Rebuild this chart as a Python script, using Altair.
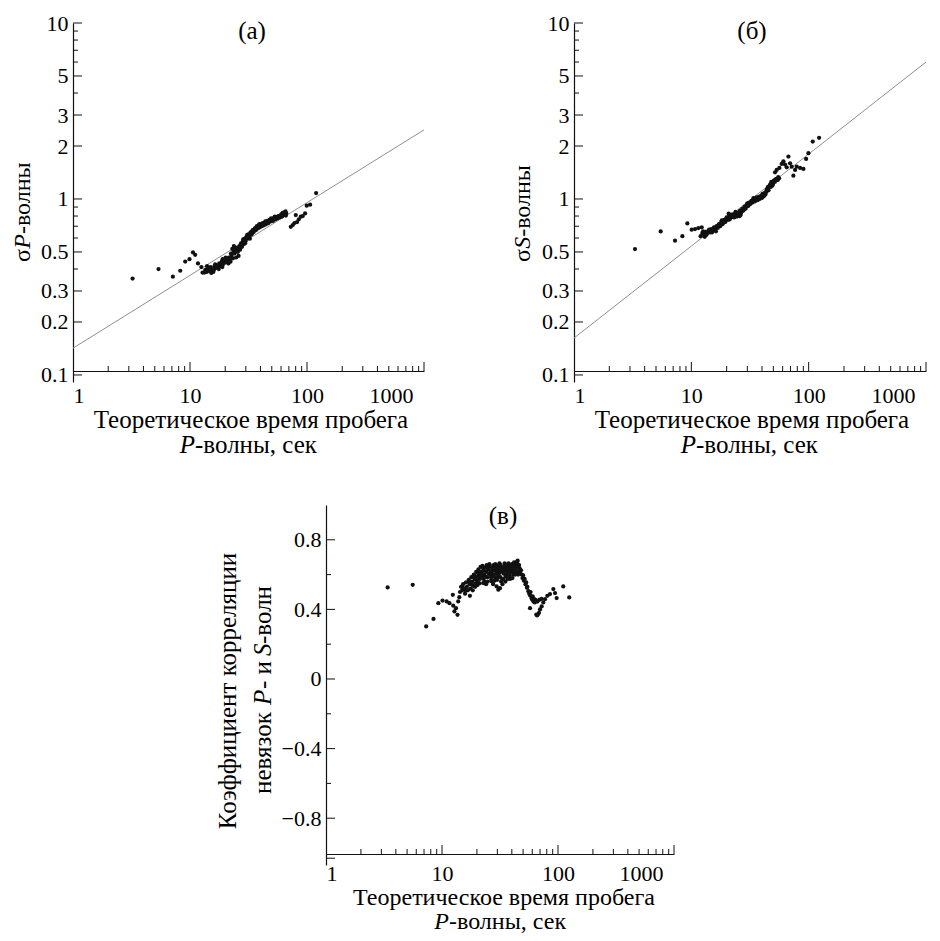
import altair as alt
import pandas as pd

# ---------------- data ----------------
A_POINTS = [
    (3.23, 0.353), (5.38, 0.40), (7.14, 0.362), (8.25, 0.391), (9.1, 0.441), (9.9, 0.455),
    (10.6, 0.497), (11.07, 0.482), (11.7, 0.43), (12.5, 0.41), (12.8, 0.382), (13.3, 0.382),
    (13.5, 0.395), (13.9, 0.385), (14.2, 0.405), (14.6, 0.39), (15.0, 0.41), (15.4, 0.40),
    (15.8, 0.385), (16.2, 0.415), (16.6, 0.405), (17.0, 0.42), (17.4, 0.41), (17.8, 0.43),
    (18.2, 0.415), (18.7, 0.44), (19.1, 0.425), (19.6, 0.445), (20.0, 0.435), (20.5, 0.455),
    (21.0, 0.44), (21.5, 0.465), (22.0, 0.45), (22.6, 0.475), (23.0, 0.52), (23.3, 0.46),
    (23.7, 0.54), (24.0, 0.49), (24.4, 0.51), (24.8, 0.465), (25.2, 0.525), (25.6, 0.50),
    (26.0, 0.475), (26.4, 0.54), (26.8, 0.515), (27.3, 0.56), (27.8, 0.535), (28.3, 0.575),
    (28.8, 0.555), (29.3, 0.595), (29.8, 0.575), (30.4, 0.61), (31.0, 0.595), (31.6, 0.63),
    (32.2, 0.61), (32.9, 0.645), (33.6, 0.63), (34.3, 0.665), (35.0, 0.65), (35.8, 0.68),
    (36.5, 0.665), (37.3, 0.70), (38.0, 0.68), (38.8, 0.71), (39.6, 0.69), (40.4, 0.72),
    (41.2, 0.70), (42.0, 0.73), (42.9, 0.71), (43.8, 0.735), (44.8, 0.72), (45.8, 0.75),
    (46.8, 0.73), (47.8, 0.76), (48.9, 0.745), (50.0, 0.77), (51.1, 0.75), (52.3, 0.78),
    (53.5, 0.765), (54.7, 0.79), (56.0, 0.775), (57.2, 0.80), (58.5, 0.785), (59.8, 0.81),
    (61.0, 0.795), (62.0, 0.835), (63.0, 0.81), (64.2, 0.84), (65.2, 0.815), (66.4, 0.83),
    (16.0, 0.395), (19.0, 0.455), (22.2, 0.44), (28.0, 0.545), (31.3, 0.61), (34.0, 0.64),
    (37.0, 0.69), (40.0, 0.705), (44.0, 0.745), (49.5, 0.76), (55.0, 0.78), (60.5, 0.82),
    (14.0, 0.415), (15.2, 0.38), (16.4, 0.425), (17.6, 0.40), (18.9, 0.41), (20.2, 0.465),
    (21.3, 0.43), (22.4, 0.49), (23.5, 0.50), (24.6, 0.53), (25.9, 0.51), (27.0, 0.53),
    (28.5, 0.59), (29.6, 0.56), (30.8, 0.625), (32.5, 0.595), (33.9, 0.65), (35.4, 0.665),
    (36.9, 0.68), (38.4, 0.695), (39.2, 0.72), (41.6, 0.725), (43.3, 0.72), (45.3, 0.735),
    (47.3, 0.745), (49.3, 0.775), (51.7, 0.765), (53.0, 0.795), (56.5, 0.79), (58.0, 0.80),
    (61.5, 0.80), (63.6, 0.825), (66.0, 0.805), (65.5, 0.85),
    (72.7, 0.695), (75.6, 0.711), (78.1, 0.730), (80.2, 0.810), (82.3, 0.739), (85.1, 0.766),
    (88.5, 0.793), (92.0, 0.800), (96.3, 0.828), (99.5, 0.916), (106.3, 0.928), (119.6, 1.08),
]

B_POINTS = [
    (3.31, 0.519), (5.48, 0.654), (7.26, 0.579), (8.39, 0.615), (9.25, 0.726), (10.07, 0.669),
    (10.76, 0.675), (11.48, 0.684), (12.26, 0.690),
    (12.0, 0.615), (12.4, 0.64), (12.8, 0.625), (13.2, 0.65), (13.6, 0.635), (14.0, 0.66),
    (14.4, 0.645), (14.8, 0.675), (15.2, 0.66), (15.6, 0.69), (16.0, 0.67), (16.4, 0.70),
    (16.8, 0.685), (17.2, 0.72), (17.6, 0.70), (18.0, 0.74), (18.5, 0.72), (19.0, 0.76),
    (19.5, 0.74), (20.0, 0.785), (20.5, 0.76), (21.0, 0.80), (21.5, 0.78), (22.0, 0.815),
    (22.5, 0.79), (23.0, 0.82), (23.5, 0.80), (24.0, 0.83), (24.5, 0.795), (25.0, 0.815),
    (25.5, 0.84), (26.0, 0.86), (26.6, 0.835), (27.2, 0.88), (27.8, 0.86), (28.4, 0.905),
    (29.0, 0.88), (29.7, 0.93), (30.4, 0.91), (31.1, 0.955), (31.8, 0.935), (32.5, 0.975),
    (33.3, 0.955), (34.1, 0.99), (34.9, 0.97), (35.7, 1.005), (36.5, 0.985), (37.4, 1.02),
    (38.3, 1.0), (39.2, 1.035), (40.1, 1.015), (41.0, 1.05), (42.0, 1.08), (42.8, 1.06),
    (43.7, 1.11), (44.6, 1.15), (45.5, 1.12), (46.5, 1.19), (47.5, 1.17), (48.5, 1.23),
    (49.5, 1.21), (50.5, 1.27), (51.5, 1.25), (53.0, 1.30), (54.5, 1.28), (56.0, 1.31),
    (13.0, 0.61), (15.0, 0.645), (18.2, 0.755), (20.8, 0.825), (23.2, 0.785), (26.3, 0.81),
    (30.0, 0.945), (33.8, 1.01), (37.0, 0.99), (40.5, 1.07), (44.0, 1.13), (48.0, 1.25),
    (12.6, 0.655), (13.4, 0.625), (14.2, 0.67), (15.4, 0.675), (16.2, 0.655), (17.0, 0.705),
    (17.8, 0.725), (18.8, 0.735), (19.8, 0.77), (21.2, 0.765), (22.2, 0.80), (23.8, 0.845),
    (24.8, 0.83), (25.8, 0.80), (27.0, 0.855), (28.2, 0.875), (29.3, 0.905), (30.8, 0.93),
    (32.2, 0.95), (34.5, 0.985), (36.0, 1.02), (38.0, 1.03), (39.8, 1.05), (41.5, 1.035),
    (43.2, 1.09), (45.0, 1.17), (47.0, 1.21), (49.0, 1.19), (52.0, 1.29), (55.0, 1.33),
    (51.7, 1.418), (53.4, 1.462), (56.3, 1.501), (58.9, 1.582), (60.9, 1.638), (62.9, 1.568),
    (65.0, 1.514), (67.2, 1.741), (69.4, 1.596), (71.7, 1.527), (74.1, 1.357), (76.6, 1.462),
    (79.1, 1.527), (84.5, 1.501), (90.2, 1.481), (95.1, 1.689), (99.5, 1.82), (108.3, 2.12),
    (122.7, 2.225),
]

C_POINTS = [
    (3.40, 0.526), (5.59, 0.541), (7.30, 0.302), (8.45, 0.345), (9.30, 0.436), (10.1, 0.451),
    (10.97, 0.446), (11.6, 0.436), (12.4, 0.484), (12.5, 0.421), (12.8, 0.388), (13.2, 0.407),
    (13.6, 0.369), (13.8, 0.446), (14.1, 0.47),
    (14.3, 0.50), (14.6, 0.53), (14.9, 0.51), (15.2, 0.545), (15.5, 0.52), (15.8, 0.49),
    (16.1, 0.555), (16.4, 0.53), (16.7, 0.51), (17.0, 0.57), (17.3, 0.545), (17.6, 0.52),
    (17.9, 0.585), (18.2, 0.56), (18.5, 0.535), (18.8, 0.60), (19.1, 0.575), (19.4, 0.55),
    (19.7, 0.615), (20.0, 0.59), (20.3, 0.56), (20.6, 0.63), (20.9, 0.60), (21.2, 0.575),
    (21.5, 0.645), (21.8, 0.615), (22.1, 0.59), (22.4, 0.65), (22.7, 0.625), (23.0, 0.60),
    (23.3, 0.56), (23.6, 0.64), (24.0, 0.615), (24.3, 0.655), (24.6, 0.585), (25.0, 0.63),
    (25.4, 0.605), (25.8, 0.65), (26.2, 0.62), (26.6, 0.57), (27.0, 0.64), (27.4, 0.60),
    (27.8, 0.655), (28.2, 0.625), (28.6, 0.585), (29.0, 0.645), (29.4, 0.61), (29.8, 0.65),
    (30.2, 0.625), (30.6, 0.59), (31.0, 0.64), (31.5, 0.61), (32.0, 0.655), (32.5, 0.62),
    (33.0, 0.575), (33.5, 0.635), (34.0, 0.605), (34.5, 0.65), (35.0, 0.625), (35.5, 0.59),
    (36.0, 0.64), (36.6, 0.61), (37.2, 0.655), (37.8, 0.62), (38.4, 0.595), (39.0, 0.645),
    (39.6, 0.615), (40.2, 0.66), (40.8, 0.63), (41.4, 0.60), (42.0, 0.655), (42.6, 0.625),
    (43.2, 0.665), (43.8, 0.64), (44.4, 0.675), (45.0, 0.65), (45.6, 0.62), (46.2, 0.655),
    (46.8, 0.635), (47.4, 0.605), (48.0, 0.625), (48.7, 0.60), (49.4, 0.58), (50.1, 0.595),
    (50.8, 0.565), (51.6, 0.575), (52.4, 0.545), (53.2, 0.555), (54.0, 0.525),
    (15.0, 0.53), (16.0, 0.51), (17.2, 0.56), (18.0, 0.545), (19.0, 0.59), (19.8, 0.57),
    (20.5, 0.61), (21.0, 0.585), (22.0, 0.61), (23.0, 0.635), (23.8, 0.59), (25.2, 0.645),
    (26.0, 0.60), (27.2, 0.62), (28.0, 0.60), (29.2, 0.63), (30.4, 0.60), (31.2, 0.625),
    (32.8, 0.64), (34.2, 0.62), (35.8, 0.65), (37.0, 0.635), (38.0, 0.61), (39.5, 0.635),
    (41.0, 0.645), (42.3, 0.61), (43.5, 0.65), (44.8, 0.66), (46.0, 0.64), (47.0, 0.62),
    (20.2, 0.54), (22.8, 0.575), (26.5, 0.585), (31.8, 0.585), (36.2, 0.60), (17.4, 0.478),
    (29.6, 0.532), (31.6, 0.522), (30.6, 0.513), (22.7, 0.551), (15.8, 0.513),
    (18.4, 0.51), (19.3, 0.53), (21.1, 0.55), (23.4, 0.585), (24.8, 0.56), (26.9, 0.56),
    (28.4, 0.565), (29.9, 0.57), (32.3, 0.56), (33.8, 0.575), (35.2, 0.56), (36.8, 0.575),
    (38.7, 0.575), (40.5, 0.58), (42.8, 0.60), (44.2, 0.615), (45.3, 0.60), (22.5, 0.64),
    (25.6, 0.66), (28.8, 0.66), (31.3, 0.665), (34.7, 0.665), (37.5, 0.665), (41.8, 0.67),
    (44.9, 0.68), (24.0, 0.545), (27.6, 0.545), (33.2, 0.545),
    (54.5, 0.53), (55.5, 0.505), (56.5, 0.49), (57.5, 0.48), (58.0, 0.50), (59.0, 0.465),
    (60.0, 0.455), (60.5, 0.475), (61.5, 0.445), (62.0, 0.46), (63.0, 0.44), (64.0, 0.455),
    (57.4, 0.407), (65.0, 0.37), (66.0, 0.365), (67.0, 0.37), (68.5, 0.38), (70.0, 0.40),
    (72.3, 0.417), (74.7, 0.44), (77.3, 0.459), (80.9, 0.478), (85.3, 0.488), (91.2, 0.517),
    (94.3, 0.494), (97.4, 0.465), (66.5, 0.445), (69.0, 0.455), (72.0, 0.46), (111.0, 0.532),
    (125.0, 0.469),
]

A_LINE = [(1, 0.142), (1000, 2.47)]
B_LINE = [(1, 0.162), (1000, 6.0)]

X_LABELS = [1, 10, 100, 1000]
X_MAJOR = [10, 100, 1000]
X_MINOR = [2, 3, 4, 5, 6, 7, 8, 9, 20, 30, 40, 50, 60, 70, 80, 90,
           200, 300, 400, 500, 600, 700, 800, 900]
LOG_LABELS = [0.1, 0.2, 0.3, 0.5, 1, 2, 3, 5, 10]
LOG_MINOR = [0.4, 0.6, 0.7, 0.8, 0.9, 4, 6, 7, 8, 9]
R_LABELS = [-0.8, -0.4, 0, 0.4, 0.8]
R_MAJOR = [-1.03, -0.8, -0.4, 0, 0.4, 0.8]
R_MINOR = [-0.6, -0.2, 0.2, 0.6]

# ---------------- styling / layout ----------------
FONT = "Liberation Serif"
W, H = 924, 925
LABEL_SIZE = 22
TITLE_SIZE = 25
YT_SIZE = 24
INK = "#111111"


def xy(pts):
    return pd.DataFrame(pts, columns=["t", "v"])


def vals(v, col):
    return pd.DataFrame({col: v})


def panel(points, line, xr, ys, ylab, ymaj, ymin, xaxis_y, yfmt, xpad=14):
    x0 = xr[0]
    xs = alt.Scale(type="log", domain=[1, 1000], range=xr, nice=False)
    xax = alt.Axis(values=X_LABELS, format="d", orient="bottom", offset=xaxis_y - H,
                   grid=False, ticks=False, tickSize=0, domainColor=INK, domainWidth=1.2,
                   labelFont=FONT, labelFontSize=LABEL_SIZE, labelColor="black",
                   labelPadding=xpad, labelOverlap=False, title=None,
                   labelOffset={"condition": {"test": "datum.value >= 1000", "value": -11},
                                "value": 0})
    yax = alt.Axis(values=ylab, format=yfmt, orient="left", offset=-x0,
                   grid=False, ticks=False, tickSize=0, domainColor=INK, domainWidth=1.2,
                   labelFont=FONT, labelFontSize=LABEL_SIZE, labelColor="black",
                   labelPadding=5, labelOverlap=False, title=None)
    layers = []
    if line is not None:
        layers.append(alt.Chart(xy(line)).mark_line(color="#8f8f8f", strokeWidth=1).encode(
            x=alt.X("t:Q", scale=xs, axis=None), y=alt.Y("v:Q", scale=ys, axis=None)))
    layers.append(alt.Chart(xy(points)).mark_circle(size=18, color=INK, opacity=1).encode(
        x=alt.X("t:Q", scale=xs, axis=xax), y=alt.Y("v:Q", scale=ys, axis=yax)))
    for vlist, ln in ((X_MAJOR, 9), (X_MINOR, 5)):
        layers.append(alt.Chart(vals(vlist, "t")).mark_rule(color=INK, strokeWidth=1).encode(
            x=alt.X("t:Q", scale=xs, axis=None),
            y=alt.value(xaxis_y), y2=alt.value(xaxis_y - ln)))
    for vlist, ln in ((ymaj, 9), (ymin, 5)):
        layers.append(alt.Chart(vals(vlist, "v")).mark_rule(color=INK, strokeWidth=1).encode(
            y=alt.Y("v:Q", scale=ys, axis=None),
            x=alt.value(x0), x2=alt.value(x0 + ln)))
    return layers


def txt(s, x, y, size=TITLE_SIZE, align="center", baseline="alphabetic", angle=0,
        italic=False):
    kw = dict(text=s, font=FONT, fontSize=size, align=align, baseline=baseline,
              color="black")
    if angle:
        kw["angle"] = angle
    if italic:
        kw["fontStyle"] = "italic"
    return alt.Chart(alt.Data(values=[{}])).mark_text(**kw).encode(
        x=alt.value(x), y=alt.value(y))


log_y = alt.Scale(type="log", domain=[0.0912, 10], range=[374, 15], nice=False)
lin_y = alt.Scale(type="linear", domain=[-1.069, 1.0], range=[857, 497], nice=False,
                  zero=False)

children = []
children += panel(A_POINTS, A_LINE, [65, 416], log_y, LOG_LABELS, LOG_LABELS, LOG_MINOR, 363, "~g")
children += panel(B_POINTS, B_LINE, [566, 918], log_y, LOG_LABELS, LOG_LABELS, LOG_MINOR, 363, "~g")
children += panel(C_POINTS, None, [318, 666], lin_y, R_LABELS, R_MAJOR, R_MINOR, 846, "~g",
                  xpad=9)

XT1 = "Теоретическое время пробега"
XT2 = "-волны, сек"
children += [
    txt("(а)", 244, 31),
    txt("(б)", 744, 31),
    txt("(в)", 495, 516),
    # x titles
    txt(XT1, 243, 420), txt("P", 187, 445, align="right", italic=True),
    txt(XT2, 187, 445, align="left"),
    txt(XT1, 744, 420), txt("P", 688, 445, align="right", italic=True),
    txt(XT2, 688, 445, align="left"),
    txt(XT1, 496, 897, size=24), txt("P", 441, 921, size=24, align="right", italic=True),
    txt(XT2, 441, 921, size=24, align="left"),
    # y titles (a), (б)
    txt("σ", 22, 254, size=YT_SIZE, align="left", angle=270),
    txt("P", 22, 240.8, size=YT_SIZE, align="left", angle=270, italic=True),
    txt("-волны", 22, 226.1, size=YT_SIZE, align="left", angle=270),
    txt("σ", 522, 254, size=YT_SIZE, align="left", angle=270),
    txt("S", 522, 240.8, size=YT_SIZE, align="left", angle=270, italic=True),
    txt("-волны", 522, 228.8, size=YT_SIZE, align="left", angle=270),
    # y title (в)
    txt("Коэффициент корреляции", 228, 683, angle=270),
    txt("невязок", 263, 786, align="left", angle=270),
    txt("P", 263, 697, align="left", angle=270, italic=True),
    txt("- и", 263, 681, align="left", angle=270),
    txt("S", 263, 648, align="left", angle=270, italic=True),
    txt("-волн", 263, 636, align="left", angle=270),
]

chart = alt.layer(*children).resolve_scale(
    x="independent", y="independent").resolve_axis(
    x="independent", y="independent").properties(
    width=W, height=H, autosize=alt.AutoSizeParams(type="none"), padding=0,
    background="white").configure_view(strokeWidth=0).configure_axis(
    labelFont=FONT, labelFontSize=LABEL_SIZE, labelColor="black", grid=False)

chart.save("out.html", embed_options={"renderer": "svg", "actions": False})
